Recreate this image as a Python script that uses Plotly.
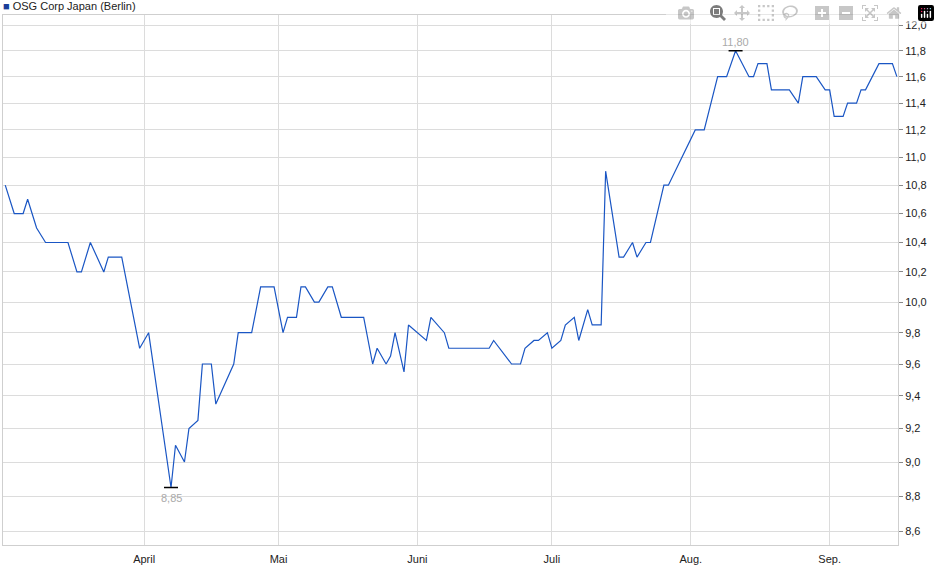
import plotly.graph_objects as go
import math

dates = ["2023-03-01","2023-03-03","2023-03-05","2023-03-06","2023-03-08","2023-03-10","2023-03-15","2023-03-17","2023-03-18","2023-03-20",
"2023-03-23","2023-03-24","2023-03-27","2023-03-31","2023-04-02","2023-04-07","2023-04-08","2023-04-10","2023-04-11","2023-04-13",
"2023-04-14","2023-04-16","2023-04-17","2023-04-21","2023-04-22","2023-04-25","2023-04-27","2023-04-30","2023-05-02","2023-05-03",
"2023-05-05","2023-05-06","2023-05-07","2023-05-09","2023-05-10","2023-05-12","2023-05-13","2023-05-15","2023-05-20","2023-05-22",
"2023-05-23","2023-05-25","2023-05-26","2023-05-27","2023-05-29","2023-05-30","2023-06-03","2023-06-04","2023-06-07","2023-06-08",
"2023-06-17","2023-06-18","2023-06-22","2023-06-24","2023-06-25","2023-06-27","2023-06-28","2023-06-30","2023-07-01","2023-07-03",
"2023-07-04","2023-07-06","2023-07-07","2023-07-09","2023-07-10","2023-07-12","2023-07-13","2023-07-16","2023-07-17","2023-07-19",
"2023-07-20","2023-07-22","2023-07-23","2023-07-26","2023-07-27","2023-08-02","2023-08-04","2023-08-07","2023-08-09","2023-08-11",
"2023-08-14","2023-08-15","2023-08-16","2023-08-18","2023-08-19","2023-08-23","2023-08-25","2023-08-26","2023-08-29","2023-08-31",
"2023-09-01","2023-09-02","2023-09-04","2023-09-05","2023-09-07","2023-09-08","2023-09-09","2023-09-12","2023-09-15","2023-09-16"]
prices = [10.8,10.6,10.6,10.7,10.5,10.4,10.4,10.2,10.2,10.4,
10.2,10.3,10.3,9.7,9.8,8.85,9.1,9.0,9.2,9.25,
9.6,9.6,9.35,9.6,9.8,9.8,10.1,10.1,9.8,9.9,
9.9,10.1,10.1,10.0,10.0,10.1,10.1,9.9,9.9,9.6,
9.7,9.6,9.65,9.8,9.55,9.85,9.75,9.9,9.8,9.7,
9.7,9.75,9.6,9.6,9.7,9.75,9.75,9.8,9.7,9.75,
9.85,9.9,9.75,9.95,9.85,9.85,10.9,10.3,10.3,10.4,
10.3,10.4,10.4,10.8,10.8,11.2,11.2,11.6,11.6,11.8,
11.6,11.6,11.7,11.7,11.5,11.5,11.4,11.6,11.6,11.5,
11.5,11.3,11.3,11.4,11.4,11.5,11.5,11.7,11.7,11.6]
ytick_vals = [8.6,8.8,9.0,9.2,9.4,9.6,9.8,10.0,10.2,10.4,10.6,10.8,11.0,11.2,11.4,11.6,11.8,12.0]
ytick_text = [f"{v:.1f}".replace(".", ",") for v in ytick_vals]
month_ticks = ["2023-04-01","2023-05-01","2023-06-01","2023-07-01","2023-08-01","2023-09-01"]
month_labels = ["April","Mai","Juni","Juli","Aug.","Sep."]
series_name = "OSG Corp Japan (Berlin)"

imin = prices.index(min(prices)); imax = prices.index(max(prices))

fig = go.Figure()
fig.add_trace(go.Scatter(x=dates, y=prices, mode="lines", name=series_name,
                         line=dict(color="#1a56c4", width=1.2), showlegend=False))
fig.add_trace(go.Scatter(x=[dates[imin], dates[imax]], y=[prices[imin], prices[imax]], mode="markers",
                         marker=dict(symbol="line-ew", size=10, line=dict(color="black", width=1.5)),
                         showlegend=False, hoverinfo="skip"))
for i, pos in [(imin, "bottom"), (imax, "top")]:
    fig.add_annotation(x=dates[i], y=math.log10(prices[i]), text=f"{prices[i]:.2f}".replace(".", ","),
                       showarrow=False, yshift=-10 if pos == "bottom" else 9,
                       font=dict(color="#aaaaaa", size=11))

fig.add_annotation(xref="paper", yref="paper", x=0, y=1, xshift=-2, yshift=1, xanchor="left", yanchor="bottom",
                   text="<span style='color:#1a3e99'>■</span> " + series_name, showarrow=False,
                   font=dict(size=11, color="#222"))

fig.update_layout(
    width=940, height=579, paper_bgcolor="white", plot_bgcolor="white",
    margin=dict(l=3, r=42, t=15, b=34, autoexpand=False),
    font=dict(family="Liberation Sans, Arial, sans-serif", size=11, color="#222"),
    xaxis=dict(range=["2023-02-28 12:00", "2023-09-16 06:00"], tickvals=month_ticks, ticktext=month_labels,
               showgrid=True, gridcolor="#dcdcdc", zeroline=False, showline=True, linecolor="#cfcfcf",
               mirror=True, ticks="", ticklabelstandoff=4),
    yaxis=dict(type="log", range=[0.9305, 1.0821], side="right", tickvals=ytick_vals, ticktext=ytick_text,
               showgrid=True, gridcolor="#dcdcdc", zeroline=False, showline=True, linecolor="#cfcfcf",
               mirror=True, ticks="outside", ticklen=4, tickcolor="#888"),
)
fig.write_html("out.html", post_script="document.body.style.margin='0';")
